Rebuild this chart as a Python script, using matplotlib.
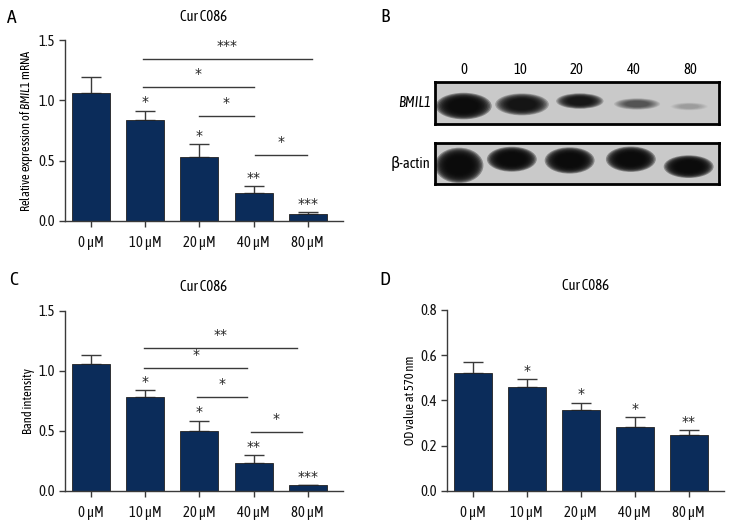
import numpy as np
import matplotlib
matplotlib.use("Agg")
import matplotlib.pyplot as plt
from matplotlib.patches import Ellipse

plt.rcParams['font.family'] = ['Asap Condensed', 'DejaVu Sans']
plt.rcParams['mathtext.fontset'] = 'custom'
plt.rcParams['mathtext.rm'] = 'Asap Condensed'
plt.rcParams['mathtext.it'] = 'Asap Condensed:italic'

# data
doses = ['0 µM', '10 µM', '20 µM', '40 µM', '80 µM']

mrna_mean = [1.06, 0.84, 0.53, 0.23, 0.055]
mrna_err = [0.13, 0.075, 0.11, 0.06, 0.022]
mrna_stars = ['', '*', '*', '**', '***']
mrna_sig = [(1, 4, '***'), (1, 3, '*'), (2, 3, '*'), (3, 4, '*')]

band_mean = [1.06, 0.78, 0.50, 0.23, 0.045]
band_err = [0.075, 0.06, 0.085, 0.065, 0.005]
band_stars = ['', '*', '*', '**', '***']
band_sig = [(1, 4, '**'), (1, 3, '*'), (2, 3, '*'), (3, 4, '*')]

od_mean = [0.52, 0.46, 0.357, 0.284, 0.248]
od_err = [0.05, 0.034, 0.033, 0.041, 0.021]
od_stars = ['', '*', '*', '*', '**']

lanes = ['0', '10', '20', '40', '80']
bmil1_dark = [0.98, 0.93, 0.92, 0.6, 0.22]
actin_dark = [0.985, 0.985, 0.985, 0.985, 0.985]

# layout / style
BAR = '#0b2c5a'
GREY = '#3a3a3a'
STAR_FONT = ['DejaVu Sans']
mrna_sig_y = [1.34, 1.108, 0.867, 0.547]
mrna_sig_x = [(-0.04, 0.07), (-0.04, 0.0), (-0.01, 0.0), (0.02, -0.02)]
band_sig_y = [1.187, 1.02, 0.783, 0.492]
band_sig_x = [(-0.02, -0.2), (-0.02, -0.12), (-0.05, -0.12), (-0.05, -0.11)]

fig = plt.figure(figsize=(7.44, 5.28), dpi=100)


def px_axes(x0, y0, x1, y1):
    return fig.add_axes([x0 / 744, 1 - y1 / 528, (x1 - x0) / 744, (y1 - y0) / 528])


def bar_panel(ax, mean, err, stars, ylim, yticks, ylabel, off):
    x = np.arange(len(mean))
    ax.bar(x, mean, width=0.7, color=BAR, edgecolor='#222222', linewidth=0.6, zorder=2)
    ax.errorbar(x, mean, yerr=[np.zeros(len(err)), err], fmt='none', ecolor=GREY,
                elinewidth=1, capsize=7, capthick=1, zorder=1)
    for xi, m, e, s in zip(x, mean, err, stars):
        if s:
            ax.text(xi, m + e + off, s, ha='center', va='bottom', fontsize=10,
                    color='#222222', family=STAR_FONT)
    ax.set_xlim(-0.48, 4.65)
    ax.set_ylim(*ylim)
    ax.set_yticks(yticks)
    ax.set_yticklabels(['%.1f' % v for v in yticks])
    ax.set_xticks(x)
    ax.set_xticklabels(doses)
    for s in ['top', 'right']:
        ax.spines[s].set_visible(False)
    for s in ['left', 'bottom']:
        ax.spines[s].set_color(GREY)
        ax.spines[s].set_linewidth(1)
    ax.tick_params(colors=GREY, labelcolor='#111111', labelsize=10.5, length=4, width=1)
    ax.tick_params(axis='x', pad=7)
    ax.set_ylabel(ylabel, fontsize=9, labelpad=2)
    ax.set_title('Cur C086', fontsize=10.5, pad=14)


def sig_lines(ax, sig, ys, dx, off):
    for (i, j, lab), y, (a, b) in zip(sig, ys, dx):
        ax.plot([i + a, j + b], [y, y], color=GREY, lw=1)
        ax.text((i + a + j + b) / 2, y + off, lab, ha='center', va='bottom', fontsize=10,
                color='#222222', family=STAR_FONT)


axA = px_axes(65, 40, 343, 221)
bar_panel(axA, mrna_mean, mrna_err, mrna_stars, (0, 1.5), [0, 0.5, 1.0, 1.5],
          r'Relative expression of $\it{BMIL1}$ mRNA', 0.01)
sig_lines(axA, mrna_sig, mrna_sig_y, mrna_sig_x, 0.05)

axC = px_axes(65, 310.7, 343, 490.7)
bar_panel(axC, band_mean, band_err, band_stars, (0, 1.5), [0, 0.5, 1.0, 1.5],
          'Band intensity', 0.01)
sig_lines(axC, band_sig, band_sig_y, band_sig_x, 0.05)

axD = px_axes(447, 309.7, 723.7, 491)
bar_panel(axD, od_mean, od_err, od_stars, (0, 0.8), [0, 0.2, 0.4, 0.6, 0.8],
          'OD value at 570 nm', 0.006)

# western blot, panel B
bmil1_w = [0.9, 0.86, 0.76, 0.74, 0.6]
bmil1_h = [0.58, 0.48, 0.34, 0.25, 0.17]
bmil1_y = [0.43, 0.47, 0.55, 0.48, 0.42]
bmil1_dx = [0.0, 0.03, 0.05, 0.06, -0.02]
actin_w = [0.78, 0.8, 0.8, 0.8, 0.8]
actin_h = [0.78, 0.55, 0.58, 0.56, 0.5]
actin_y = [0.45, 0.6, 0.57, 0.6, 0.42]
actin_dx = [-0.08, -0.15, -0.13, -0.05, -0.03]


def blot(ax, dark, w, h, yc, dx):
    ax.set_facecolor('#c9c9c9')
    ax.set_xlim(-0.5, 4.5)
    ax.set_ylim(0, 1)
    ax.set_xticks([])
    ax.set_yticks([])
    for s in ax.spines.values():
        s.set_linewidth(2)
        s.set_color('black')
    n = 10
    for i, d in enumerate(dark):
        a = 1 - (1 - d) ** (1 / n)
        for k in range(n):
            sc = 1.1 - k * 0.06
            ax.add_patch(Ellipse((i + dx[i], yc[i]), w[i] * sc, h[i] * sc,
                                 facecolor='#0a0a0a', edgecolor='none', alpha=a))


axB1 = px_axes(435.3, 82.3, 718.7, 124)
blot(axB1, bmil1_dark, bmil1_w, bmil1_h, bmil1_y, bmil1_dx)
axB2 = px_axes(435.3, 142.7, 718.7, 184)
blot(axB2, actin_dark, actin_w, actin_h, actin_y, actin_dx)
for i, lab in enumerate(lanes):
    axB1.text(i, 1.13, lab, ha='center', va='bottom', fontsize=10.5)
axB1.text(-0.58, 0.5, 'BMIL1', style='italic', ha='right', va='center', fontsize=10.5)
axB2.text(-0.58, 0.5, 'β-actin', ha='right', va='center', fontsize=10.5)

for lab, x, y in [('A', 12, 18), ('B', 385, 17), ('C', 14, 280), ('D', 385, 280)]:
    fig.text(x / 744, 1 - y / 528, lab, fontsize=14, ha='center', va='center')

fig.savefig('out.png', dpi=100)
